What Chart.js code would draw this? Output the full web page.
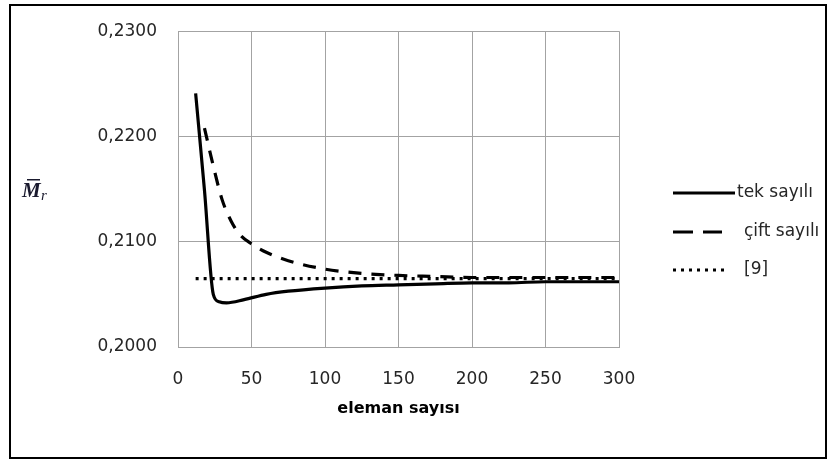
<!DOCTYPE html>
<html>
<head>
<meta charset="utf-8">
<script src="https://cdn.jsdelivr.net/npm/chart.js@4"></script>
<style>
  html, body { margin: 0; padding: 0; background: #fff; }
  #wrap { width: 831px; height: 460px; }
</style>
</head>
<body>
<div id="wrap"><canvas id="chart" width="831" height="460"></canvas></div>
<script>
// values
const tekX = [12, 18, 24, 28, 33, 45, 60, 75, 100, 125, 150, 175, 200, 225, 250, 275, 300]
const tekY = [0.2241, 0.2149, 0.2050, 0.2043, 0.2042, 0.2045, 0.2050, 0.2053, 0.2056, 0.2058, 0.2059, 0.2060, 0.2061, 0.2061, 0.2062, 0.2062, 0.2062]
const ciftX = [18, 24, 30, 36, 42, 50, 60, 75, 100, 125, 150, 175, 200, 250, 300]
const ciftY = [0.2208, 0.2172, 0.2140, 0.2120, 0.2107, 0.2098, 0.2090, 0.2082, 0.2074, 0.2070, 0.2068, 0.2067, 0.2066, 0.2066, 0.2066]
const refX = [12, 300]
const refY = [0.2065, 0.2065]
const labels = ['tek sayılı', 'çift sayılı', '[9]']
const xTitle = 'eleman sayısı'

const pts = (xs, ys) => xs.map((x, i) => ({ x: x, y: ys[i] }))
const gridColor = '#a3a3a3'
const textColor = '#262626'

// frame, y label and legend are drawn by hand
const extras = {
  id: 'extras',
  beforeDraw(chart) {
    const c = chart.ctx
    c.save()
    c.fillStyle = '#fff'
    c.fillRect(0, 0, chart.width, chart.height)
    c.restore()
  },
  afterDraw(chart) {
    const c = chart.ctx
    c.save()
    // outer frame
    c.strokeStyle = '#000'
    c.lineWidth = 2
    c.strokeRect(10, 5, 816, 453)

    // y label  M-bar sub r
    c.fillStyle = '#1a1a2e'
    c.font = 'italic bold 21px "Liberation Serif"'
    c.textBaseline = 'alphabetic'
    c.fillText('M', 22, 197)
    c.fillRect(27, 179, 13, 1.5)
    c.font = 'italic 15px "Liberation Serif"'
    c.fillText('r', 41, 200)

    // legend
    const rows = [193, 232, 270]
    const textX = [737, 744, 744]
    const lineEnd = [735, 722, 728]
    chart.data.datasets.forEach((ds, i) => {
      c.beginPath()
      c.strokeStyle = ds.borderColor
      c.lineWidth = ds.borderWidth
      c.setLineDash(i === 1 ? [20, 10] : (ds.borderDash || []))
      c.moveTo(673, rows[i])
      c.lineTo(lineEnd[i], rows[i])
      c.stroke()
      c.setLineDash([])
      c.fillStyle = textColor
      c.font = '17px "DejaVu Sans"'
      c.textBaseline = 'middle'
      c.fillText(ds.label, textX[i], rows[i])
    })
    c.restore()
  }
}

const ctx = document.getElementById('chart').getContext('2d')
new Chart(ctx, {
  type: 'line',
  data: {
    datasets: [
      { label: labels[0], data: pts(tekX, tekY), borderColor: '#000', borderWidth: 3.2,
        pointRadius: 0, cubicInterpolationMode: 'monotone' },
      { label: labels[1], data: pts(ciftX, ciftY), borderColor: '#000', borderWidth: 3.2,
        borderDash: [13, 10], pointRadius: 0, cubicInterpolationMode: 'monotone' },
      { label: labels[2], data: pts(refX, refY), borderColor: '#000', borderWidth: 3.2,
        borderDash: [3, 5], pointRadius: 0 }
    ]
  },
  options: {
    responsive: false,
    animation: false,
    layout: { padding: { left: 0, top: 27, right: 212, bottom: 0 } },
    plugins: { legend: { display: false }, tooltip: { enabled: false } },
    scales: {
      x: {
        type: 'linear', min: 0, max: 300,
        grid: { color: gridColor, drawTicks: false },
        border: { color: gridColor },
        ticks: { stepSize: 50, padding: 22, color: textColor, font: { family: 'DejaVu Sans', size: 17 } },
        title: { display: true, text: xTitle, color: '#000', padding: { bottom: 42 },
          font: { family: 'DejaVu Sans', size: 16, weight: 'bold' } },
        afterFit(scale) { scale.height = 113 }
      },
      y: {
        min: 0.2, max: 0.23,
        grid: { color: gridColor, drawTicks: false },
        border: { color: gridColor },
        ticks: { stepSize: 0.01, padding: 21, color: textColor, font: { family: 'DejaVu Sans', size: 17 },
          callback: v => v.toFixed(4).replace('.', ',') },
        afterFit(scale) { scale.width = 178 }
      }
    }
  },
  plugins: [extras]
})
</script>
</body>
</html>
